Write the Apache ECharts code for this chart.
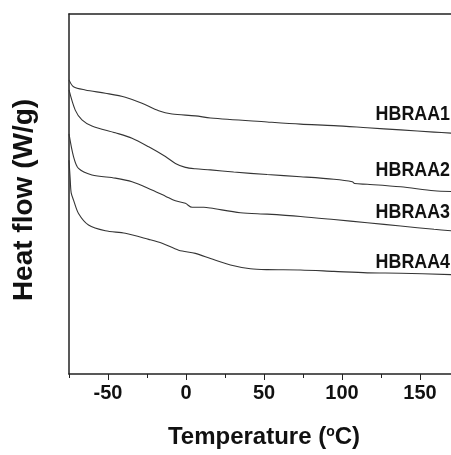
<!DOCTYPE html>
<html>
<head>
<meta charset="utf-8">
<script src="https://cdn.jsdelivr.net/npm/echarts@6/dist/echarts.min.js"></script>
<style>html,body{margin:0;padding:0;background:#fff;}#c{width:451px;height:455px;}</style>
</head>
<body>
<div id="c"></div>
<script>
// Temperature (°C) and heat flow (arbitrary units)
const temps1 = [-75, -72.1, -64.6, -51.7, -38.9, -28.2, -17.5, -8.9, 6.0, 15.7, 52.0, 73.4, 94.8, 116.2, 137.6, 159.0, 170];
const flow1  = [81.7, 79.8, 78.9, 78.0, 76.9, 75.2, 73.1, 72.2, 71.7, 71.1, 70.0, 69.4, 69.0, 68.4, 67.8, 67.2, 66.9];

const temps2 = [-75, -71.0, -66.7, -60.3, -45.3, -34.6, -23.9, -13.2, -6.8, -0.4, 6.0, 15.7, 30.6, 52.0, 73.4, 94.8, 106.6, 108.1, 116.2, 137.6, 159.0, 170];
const flow2  = [78.9, 73.3, 70.6, 68.9, 67.0, 65.5, 63.1, 60.4, 58.5, 57.4, 57.0, 56.7, 56.1, 55.4, 54.8, 54.1, 53.4, 52.9, 52.7, 52.0, 50.9, 50.7];

const temps3 = [-75, -72.1, -68.9, -60.3, -45.3, -34.6, -21.8, -13.2, -6.8, -0.4, 3.9, 11.4, 15.7, 34.9, 52.0, 73.4, 94.8, 116.2, 137.6, 159.0, 170];
const flow3  = [66.7, 60.4, 57.1, 55.3, 54.4, 53.4, 51.1, 49.4, 48.1, 47.4, 46.3, 46.3, 46.1, 44.8, 44.4, 43.75, 42.9, 42.0, 41.1, 40.2, 39.8];

const temps4 = [-75, -74.2, -73.6, -72.1, -68.9, -62.5, -51.7, -38.9, -23.9, -15.3, -4.7, 6.0, 15.7, 28.5, 41.3, 52.0, 73.4, 94.8, 116.2, 137.6, 170];
const flow4  = [59.4, 53.9, 50.3, 48.3, 44.6, 41.4, 39.8, 39.1, 37.4, 36.3, 34.4, 33.5, 32.1, 30.3, 29.25, 29.0, 28.9, 28.5, 28.1, 28.0, 27.6];

const seriesNames = ['HBRAA1', 'HBRAA2', 'HBRAA3', 'HBRAA4'];
const xTickLabels = [-50, 0, 50, 100, 150];

const FONT = '"Liberation Sans", Arial, sans-serif';

function pairs(t, v) { return t.map((x, i) => [x, v[i]]); }
const allT = [temps1, temps2, temps3, temps4];
const allV = [flow1, flow2, flow3, flow4];

const chart = echarts.init(document.getElementById('c'), null, {renderer: 'canvas'});
const lineColor = '#353535';
const labelTops = [104, 160, 202, 252];
chart.setOption({
  animation: false,
  backgroundColor: '#fff',
  grid: {left: 69, top: 14, width: 390, bottom: 81, containLabel: false, outerBoundsMode: 'none'},
  xAxis: [{
    type: 'value', min: -75, max: 175, interval: 50, position: 'bottom',
    axisLine: {show: true, onZero: false, lineStyle: {color: '#222', width: 1.5}},
    axisTick: {show: true, inside: false, length: 4, lineStyle: {color: '#222', width: 1}},
    minorTick: {show: true, splitNumber: 2, length: 6, lineStyle: {color: '#222', width: 1}},
    splitLine: {show: false}, minorSplitLine: {show: false},
    axisLabel: {customValues: xTickLabels, margin: 9, fontFamily: FONT, fontWeight: 'bold', fontSize: 20, color: '#111'},
    name: 'Temperature ({s|o}C)', nameLocation: 'middle', nameGap: 51,
    nameTextStyle: {fontFamily: FONT, fontWeight: 'bold', fontSize: 24, color: '#111',
      rich: {s: {fontFamily: FONT, fontWeight: 'bold', fontSize: 14, color: '#111', verticalAlign: 'top', padding: [0, 0, 8, 0]}}}
  }, {
    type: 'value', min: -75, max: 175, position: 'top',
    axisLine: {show: true, onZero: false, lineStyle: {color: '#222', width: 1.5}},
    axisTick: {show: false}, axisLabel: {show: false}, splitLine: {show: false}
  }],
  yAxis: [{
    type: 'value', min: 0, max: 100,
    axisLine: {show: true, onZero: false, lineStyle: {color: '#222', width: 1.5}},
    axisTick: {show: false}, axisLabel: {show: false}, splitLine: {show: false},
    name: 'Heat flow (W/g)', nameLocation: 'middle', nameGap: 31,
    nameTextStyle: {fontFamily: FONT, fontWeight: 'bold', fontSize: 28, color: '#111', padding: [0, 12, 0, 0]}
  }],
  series: seriesNames.map((n, i) => ({
    name: n, type: 'line', data: pairs(allT[i], allV[i]), showSymbol: false, symbol: 'none',
    smooth: 0.3, lineStyle: {color: lineColor, width: 1.1}, z: 3
  })),
  graphic: seriesNames.map((n, i) => ({
    type: 'text', x: 450, y: labelTops[i], scaleX: 0.85,
    style: {text: n, font: 'bold 21px ' + FONT, fill: '#111', align: 'right', verticalAlign: 'top'}
  }))
});
</script>
</body>
</html>
